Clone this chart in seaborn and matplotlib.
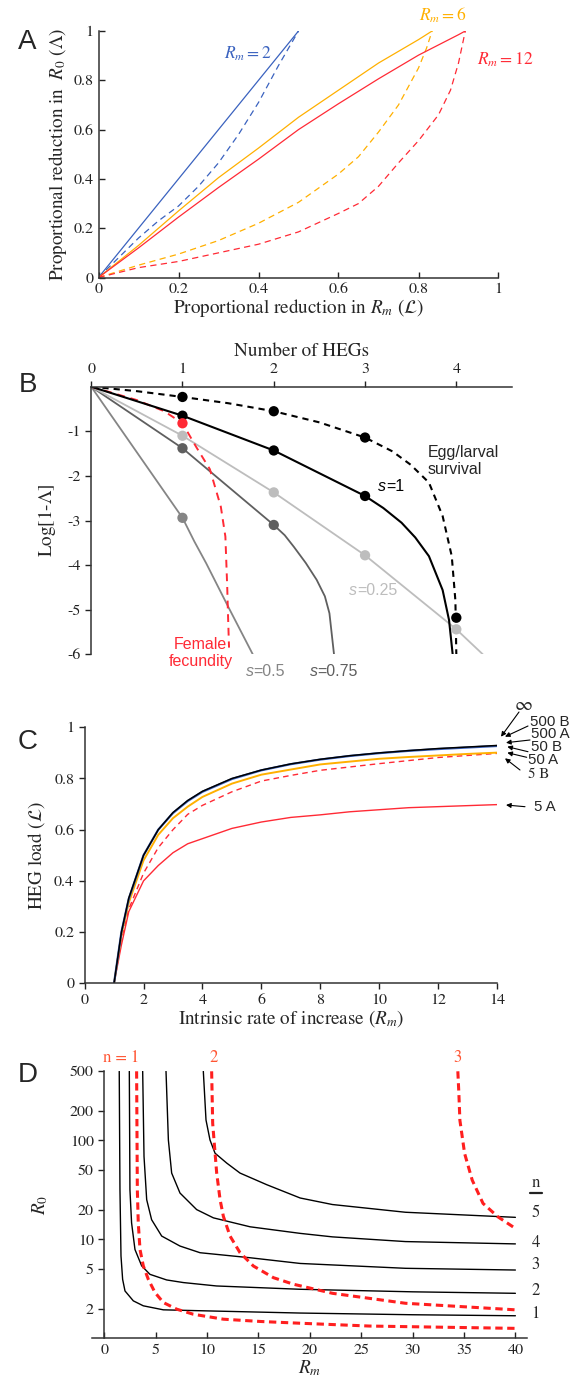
import matplotlib
matplotlib.use("Agg")
import matplotlib.pyplot as plt
import seaborn as sns
from matplotlib.ticker import FuncFormatter

# ---------------- panel A : reduction in R0 vs reduction in Rm
a_blue_x = [0, 0.1, 0.2, 0.3, 0.4, 0.5]
a_blue_y = [0, 0.2, 0.4, 0.6, 0.8, 1.0]
a_blue_dash_x = [0, 0.05, 0.1, 0.15, 0.2, 0.25, 0.3, 0.35, 0.4, 0.45, 0.5]
a_blue_dash_y = [0, 0.08, 0.16, 0.23, 0.29, 0.37, 0.465, 0.58, 0.71, 0.86, 1.0]
a_orange_x = [0, 0.1, 0.2, 0.3, 0.4, 0.5, 0.6, 0.7, 0.8, 0.834]
a_orange_y = [0, 0.13, 0.27, 0.405, 0.525, 0.65, 0.76, 0.87, 0.965, 1.0]
a_orange_dash_x = [0, 0.1, 0.2, 0.3, 0.4, 0.5, 0.6, 0.65, 0.7, 0.75, 0.8, 0.82, 0.834]
a_orange_dash_y = [0, 0.05, 0.095, 0.15, 0.22, 0.305, 0.42, 0.49, 0.59, 0.7, 0.85, 0.93, 1.0]
a_red_x = [0, 0.1, 0.2, 0.3, 0.4, 0.5, 0.6, 0.7, 0.8, 0.9, 0.917]
a_red_y = [0, 0.12, 0.245, 0.365, 0.48, 0.6, 0.705, 0.806, 0.902, 0.985, 1.0]
a_red_dash_x = [0, 0.1, 0.2, 0.3, 0.4, 0.5, 0.6, 0.65, 0.7, 0.75, 0.8, 0.85, 0.88, 0.9, 0.917]
a_red_dash_y = [0, 0.04, 0.065, 0.1, 0.135, 0.185, 0.26, 0.3, 0.37, 0.465, 0.555, 0.66, 0.76, 0.87, 1.0]

# ---------------- panel B : log(1 - Lambda) vs number of HEGs
b_egg_x = [0, 0.5, 1, 1.5, 2, 2.5, 3, 3.3, 3.5, 3.7, 3.85, 3.95, 3.99, 4.0]
b_egg_y = [0, -0.1, -0.23, -0.37, -0.55, -0.8, -1.14, -1.45, -1.75, -2.15, -2.9, -3.8, -4.8, -6.0]
b_egg_dots_x = [1, 2, 3, 4]
b_egg_dots_y = [-0.23, -0.55, -1.14, -5.18]
b_s1_x = [0, 1, 2, 3, 3.2, 3.4, 3.55, 3.7, 3.85, 3.92, 3.96]
b_s1_y = [0, -0.65, -1.43, -2.45, -2.72, -3.05, -3.38, -3.8, -4.56, -5.23, -6.0]
b_s1_dots_x = [1, 2, 3]
b_s1_dots_y = [-0.65, -1.43, -2.45]
b_s025_x = [0, 1, 2, 3, 4, 4.29]
b_s025_y = [0, -1.1, -2.37, -3.78, -5.44, -6.0]
b_s075_x = [0, 1, 2, 2.12, 2.22, 2.35, 2.47, 2.56, 2.61, 2.66]
b_s075_y = [0, -1.38, -3.1, -3.33, -3.59, -3.95, -4.33, -4.7, -5.08, -6.0]
b_s05_x = [0, 1, 1.13, 1.26, 1.5, 1.77]
b_s05_y = [0, -2.94, -3.47, -3.96, -4.93, -6.0]
b_fem_x = [0, 0.5, 0.8, 1, 1.15, 1.3, 1.42, 1.47, 1.49, 1.5, 1.51]
b_fem_y = [0, -0.3, -0.55, -0.82, -1.35, -1.85, -2.69, -3.36, -4.48, -5.2, -5.85]

# ---------------- panel C : HEG load vs Rm
c_rm = [1, 1.25, 1.5, 2, 2.5, 3, 3.5, 4, 5, 6, 7, 8, 9, 10, 11, 12, 13, 14]
c_inf = [0, 0.2, 0.333, 0.5, 0.6, 0.667, 0.714, 0.75, 0.8, 0.833, 0.857, 0.875, 0.889, 0.9, 0.909, 0.917, 0.923, 0.929]
c_500 = [0, 0.2, 0.33, 0.5, 0.6, 0.665, 0.712, 0.748, 0.798, 0.832, 0.856, 0.874, 0.888, 0.899, 0.908, 0.915, 0.921, 0.927]
c_50 = [0, 0.19, 0.315, 0.48, 0.58, 0.645, 0.69, 0.728, 0.78, 0.815, 0.835, 0.855, 0.866, 0.877, 0.884, 0.89, 0.896, 0.901]
c_5b = [0, 0.17, 0.29, 0.43, 0.53, 0.6, 0.66, 0.695, 0.748, 0.79, 0.812, 0.832, 0.845, 0.858, 0.87, 0.882, 0.89, 0.898]
c_5a = [0, 0.15, 0.28, 0.4, 0.46, 0.51, 0.545, 0.565, 0.605, 0.63, 0.648, 0.658, 0.67, 0.678, 0.686, 0.69, 0.694, 0.698]
c_arrow_labels = ["500 B", "500 A", "50 B", "50 A", "5 B", "5 A"]

# ---------------- panel D : R0 vs Rm contours (black = n HEGs, red dashed = n)
d_black = {
    1: ([1.46, 1.5, 1.53, 1.63, 1.79, 2.02, 2.83, 3.8, 5.75, 9.3, 19.06, 30, 40],
        [500, 100, 31.8, 6.8, 3.94, 3.01, 2.39, 2.13, 1.94, 1.9, 1.8, 1.73, 1.69]),
    2: ([2.44, 2.5, 2.66, 2.99, 3.64, 4.45, 6.07, 7.69, 10.93, 19.06, 30, 40],
        [500, 31.8, 14.7, 7.9, 5.4, 4.43, 3.89, 3.66, 3.38, 3.13, 2.95, 2.85]),
    3: ([3.74, 3.87, 4.13, 4.61, 5.59, 7.37, 9.32, 14.19, 19.06, 29.3, 40],
        [500, 68.9, 25.2, 15.8, 10.8, 8.56, 7.33, 6.52, 5.71, 5.1, 4.9]),
    4: ([6.01, 6.24, 6.56, 7.37, 8.99, 10.62, 14.19, 19.06, 22.2, 29.3, 40],
        [500, 101, 46.8, 29.4, 20, 16.5, 13.4, 11.5, 10.6, 9.5, 9.0]),
    5: ([9.64, 9.9, 10.29, 10.78, 11.92, 13.21, 15.81, 19.06, 22.2, 29.3, 40],
        [500, 161, 101, 74.3, 59, 46.8, 35.7, 26.2, 22.5, 18.8, 16.7]),
}
d_red = {
    1: ([3.15, 3.22, 3.31, 3.48, 3.8, 4.29, 4.94, 5.75, 7.05, 8.67, 11.59, 15.16, 19.06, 25.8, 40],
        [500, 31.8, 14.7, 7.9, 5.4, 3.94, 2.9, 2.3, 1.97, 1.75, 1.56, 1.48, 1.42, 1.33, 1.26]),
    2: ([10.45, 10.55, 10.68, 10.94, 11.27, 11.59, 12.24, 13.21, 14.51, 16.46, 18.41, 22.2, 29.3, 40],
        [500, 149, 101, 46.8, 25.2, 17.1, 10.8, 7.33, 5.38, 4.1, 3.52, 2.85, 2.26, 1.94]),
    3: ([34.4, 34.5, 34.6, 35.06, 35.8, 36.85, 38.3, 40],
        [500, 300, 160, 73.8, 39.7, 23.1, 16.9, 12.9]),
}
d_yticks = [2, 5, 10, 20, 50, 100, 200, 500]

# ---------------- styling
sns.set_style("ticks")
plt.rcParams["font.family"] = ["STIXGeneral", "DejaVu Serif"]
plt.rcParams["mathtext.fontset"] = "stix"
sans = ["Liberation Sans", "DejaVu Sans"]

BLUE = "#3a62bf"
ORANGE = "#ffb000"
RED = "#ff2a35"
W, H = 578, 1379
LAB = 13.8


def box(left, top, right, bottom):
    return [left / W, 1 - bottom / H, (right - left) / W, (bottom - top) / H]


def line(ax, x, y, color, lw=0.9, ls="-", z=2):
    sns.lineplot(x=x, y=y, ax=ax, color=color, lw=lw, linestyle=ls,
                 sort=False, estimator=None, zorder=z)


num_fmt = FuncFormatter(lambda v, p: f"{v:g}")

fig = plt.figure(figsize=(W / 100, H / 100), dpi=100)
ax_a = fig.add_axes(box(98.5, 31, 498.5, 277.5))
ax_b = fig.add_axes(box(91.2, 386.7, 512, 654.3))
ax_c = fig.add_axes(box(84.6, 727.3, 497, 983.3))
ax_d = fig.add_axes(box(91.9, 1071.3, 526.7, 1338.3))

for ax in (ax_a, ax_b, ax_c, ax_d):
    for sp in ax.spines.values():
        sp.set_linewidth(1.1)
        sp.set_color("#333333")
    ax.tick_params(labelsize=11.5, width=1, length=4, colors="#222222")

# ---- A
dash_a = (0, (5, 3.5))
line(ax_a, a_blue_x, a_blue_y, BLUE)
line(ax_a, a_blue_dash_x, a_blue_dash_y, BLUE, ls=dash_a)
line(ax_a, a_orange_x, a_orange_y, ORANGE)
line(ax_a, a_orange_dash_x, a_orange_dash_y, ORANGE, ls=dash_a)
line(ax_a, a_red_x, a_red_y, RED)
line(ax_a, a_red_dash_x, a_red_dash_y, RED, ls=dash_a)
ax_a.set_xlim(0, 1)
ax_a.set_ylim(0, 1)
ax_a.set_xticks([0, 0.2, 0.4, 0.6, 0.8, 1])
ax_a.set_yticks([0, 0.2, 0.4, 0.6, 0.8, 1])
ax_a.xaxis.set_major_formatter(num_fmt)
ax_a.yaxis.set_major_formatter(num_fmt)
ax_a.tick_params(direction="in")
sns.despine(ax=ax_a)
ax_a.set_xlabel(r"Proportional reduction in $R_m$ $(\mathcal{L})$", fontsize=LAB, labelpad=1)
ax_a.set_ylabel(r"Proportional reduction in  $R_0$ $(\Lambda)$", fontsize=LAB, labelpad=3)
ax_a.text(0.374, 0.908, r"$R_m = 2$", color=BLUE, fontsize=12.5, ha="center", va="center")
ax_a.text(0.861, 1.064, r"$R_m = 6$", color=ORANGE, fontsize=12.5, ha="center", va="center")
ax_a.text(1.017, 0.885, r"$R_m = 12$", color=RED, fontsize=12.5, ha="center", va="center")

# ---- B
G25, G50, G75 = "#bdbdbd", "#858585", "#5f5f5f"
line(ax_b, b_s05_x, b_s05_y, G50, lw=1.3)
line(ax_b, b_s075_x, b_s075_y, G75, lw=1.3)
line(ax_b, b_s025_x, b_s025_y, G25, lw=1.3)
line(ax_b, b_fem_x, b_fem_y, RED, lw=1.4, ls=(0, (4, 3)))
line(ax_b, b_s1_x, b_s1_y, "black", lw=1.5)
line(ax_b, b_egg_x, b_egg_y, "black", lw=1.5, ls=(0, (3, 2.4)))
dots = [
    (b_egg_dots_x, b_egg_dots_y, "black"),
    (b_s1_dots_x, b_s1_dots_y, "black"),
    (b_s025_x[1:5], b_s025_y[1:5], G25),
    (b_s075_x[1:3], b_s075_y[1:3], G75),
    (b_s05_x[1:2], b_s05_y[1:2], G50),
    ([1], [b_fem_y[3]], RED),
]
for dx, dy, col in dots:
    sns.scatterplot(x=dx, y=dy, ax=ax_b, color=col, s=55, edgecolor="none",
                    zorder=4, clip_on=False)
ax_b.set_xlim(0, 4.61)
ax_b.set_ylim(-6, 0)
ax_b.xaxis.tick_top()
ax_b.xaxis.set_label_position("top")
ax_b.set_xticks([0, 1, 2, 3, 4])
ax_b.set_yticks([-1, -2, -3, -4, -5, -6])
ax_b.set_yticklabels(["-1", "-2", "-3", "-4", "-5", "-6"])
ax_b.spines["bottom"].set_visible(False)
ax_b.spines["right"].set_visible(False)
ax_b.set_xlabel("Number of HEGs", fontsize=LAB, labelpad=5)
ax_b.set_ylabel(r"Log[1-$\Lambda$]", fontsize=LAB, labelpad=7)
ax_b.text(3.69, -1.67, "Egg/larval\nsurvival", family=sans, fontsize=11.5,
          ha="left", va="center", linespacing=1.15)
ax_b.text(1.2, -5.97, "Female\nfecundity", family=sans, fontsize=11.5, color=RED,
          ha="center", va="center", linespacing=1.15)


def s_label(ax, x, y, value, color):
    ax.text(x, y, "s", family=sans, style="italic", fontsize=11.5, color=color,
            ha="right", va="center")
    ax.text(x, y, "=" + value, family=sans, fontsize=11.5, color=color,
            ha="left", va="center")


s_label(ax_b, 3.23, -2.24, "1", "black")
s_label(ax_b, 2.91, -4.58, "0.25", G25)
s_label(ax_b, 1.78, -6.39, "0.5", G50)
s_label(ax_b, 2.48, -6.39, "0.75", G75)

# ---- C
line(ax_c, c_rm, c_5a, RED, lw=1.0)
line(ax_c, c_rm, c_5b, RED, lw=1.0, ls=(0, (4, 3)))
line(ax_c, c_rm, c_50, ORANGE, lw=1.4)
line(ax_c, c_rm, c_500, BLUE, lw=1.6)
line(ax_c, c_rm, c_inf, "black", lw=1.1)
ax_c.set_xlim(0, 14)
ax_c.set_ylim(0, 1)
ax_c.set_xticks(range(0, 15, 2))
ax_c.set_yticks([0, 0.2, 0.4, 0.6, 0.8, 1])
ax_c.yaxis.set_major_formatter(num_fmt)
sns.despine(ax=ax_c)
ax_c.set_xlabel(r"Intrinsic rate of increase ($R_m$)", fontsize=LAB, labelpad=1)
ax_c.set_ylabel(r"HEG load $(\mathcal{L})$", fontsize=LAB, labelpad=5)

# arrow labels to the right of panel C (figure pixels, y from top)
arrow_text = [(530, 721.7), (530.7, 734.3), (531, 746.7), (528.3, 760), (528.3, 774.3), (534, 806.7)]
arrow_tail = [(528, 726), (530, 740), (528, 751.7), (526.7, 757.3), (520, 770), (525, 806.7)]
arrow_tip = [(505, 736.7), (506, 742.7), (507.3, 746.7), (507.3, 752.7), (505, 758.3), (506, 805)]
arrow_kw = dict(arrowstyle="-|>", lw=0.8, color="black", mutation_scale=7, shrinkA=0, shrinkB=0)
for lab, (tx, ty), (ax_, ay_), (px, py) in zip(c_arrow_labels, arrow_text, arrow_tail, arrow_tip):
    fam = ["STIXGeneral"] if lab == "5 B" else sans
    fig.text(tx / W, 1 - ty / H, lab, family=fam, fontsize=10.8, ha="left", va="center")
    fig.add_artist(plt.matplotlib.patches.FancyArrowPatch(
        (ax_ / W, 1 - ay_ / H), (px / W, 1 - py / H), transform=fig.transFigure, **arrow_kw))
fig.text(523.3 / W, 1 - 705 / H, r"$\infty$", fontsize=14, ha="center", va="center")
fig.add_artist(plt.matplotlib.patches.FancyArrowPatch(
    (519 / W, 1 - 712 / H), (501 / W, 1 - 736.7 / H), transform=fig.transFigure, **arrow_kw))

# ---- D
for n, (x, y) in d_black.items():
    line(ax_d, x, y, "black", lw=1.0)
for n, (x, y) in d_red.items():
    line(ax_d, x, y, "#ff1f1f", lw=2.2, ls=(0, (2.4, 1.5)), z=3)
ax_d.set_yscale("log")
ax_d.set_xlim(-1.2, 41.1)
ax_d.set_ylim(1, 500)
ax_d.set_yticks(d_yticks)
ax_d.set_yticklabels([str(v) for v in d_yticks])
ax_d.yaxis.set_minor_locator(matplotlib.ticker.NullLocator())
ax_d.set_xticks(range(0, 41, 5))
ax_d.spines["left"].set_position(("data", 0))
sns.despine(ax=ax_d)
ax_d.tick_params(axis="x", direction="in")
ax_d.set_xlabel(r"$R_m$", fontsize=LAB, labelpad=1)
ax_d.set_ylabel(r"$R_0$", fontsize=LAB, labelpad=14)
RED_N = "#ff5533"
for lab, xx in [("n = 1", 1.69), ("2", 10.6), ("3", 34.4)]:
    ax_d.text(xx, 680, lab, color=RED_N, fontsize=12, ha="center", va="center")
right_n = [("n", 1183.3), ("5", 1213.3), ("4", 1243.3), ("3", 1265), ("2", 1290.7), ("1", 1314)]
for lab, py in right_n:
    fig.text(535.7 / W, 1 - py / H, lab, fontsize=12, ha="center", va="center")
fig.add_artist(plt.matplotlib.lines.Line2D([530 / W, 541.7 / W], [1 - 1193.3 / H] * 2,
                                           color="#222222", lw=1.6))

# ---- panel letters
for lab, py in [("A", 41.7), ("B", 385), ("C", 741.7), ("D", 1075)]:
    fig.text(27.6 / W, 1 - py / H, lab, family=sans, fontsize=20, ha="center", va="center")

fig.savefig("out.png", dpi=100)
